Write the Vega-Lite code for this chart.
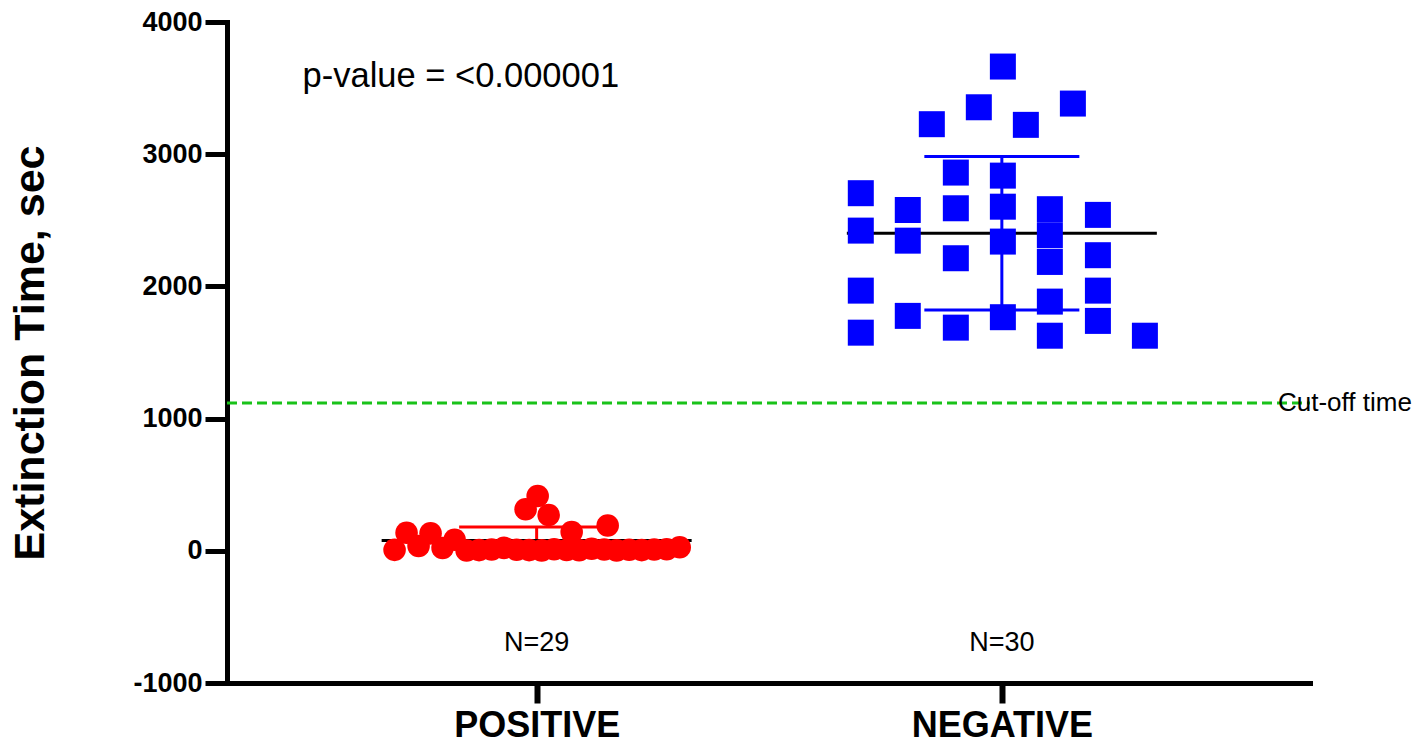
{
  "$schema": "https://vega.github.io/schema/vega-lite/v6.json",
  "width": 1083,
  "height": 661,
  "autosize": {"type": "none"},
  "padding": {"left": 227, "top": 22, "right": 118, "bottom": 61},
  "background": "white",
  "config": {"view": {"stroke": null}, "font": "Liberation Sans"},
  "datasets": {
    "pos": [
      {"x": 0.6946, "value": 7}, {"x": 0.7204, "value": 137}, {"x": 0.7462, "value": 36},
      {"x": 0.7720, "value": 132}, {"x": 0.7978, "value": 21}, {"x": 0.8237, "value": 83},
      {"x": 0.9763, "value": 314}, {"x": 1.0022, "value": 415}, {"x": 1.0258, "value": 271},
      {"x": 1.0753, "value": 142}, {"x": 1.1527, "value": 192},
      {"x": 0.8495, "value": 2}, {"x": 0.8763, "value": 5}, {"x": 0.9032, "value": 10},
      {"x": 0.9301, "value": 22}, {"x": 0.9570, "value": 8}, {"x": 0.9839, "value": 5},
      {"x": 1.0108, "value": 3}, {"x": 1.0376, "value": 12}, {"x": 1.0645, "value": 6},
      {"x": 1.0914, "value": 4}, {"x": 1.1183, "value": 15}, {"x": 1.1452, "value": 10},
      {"x": 1.1720, "value": 3}, {"x": 1.1989, "value": 8}, {"x": 1.2258, "value": 5},
      {"x": 1.2527, "value": 10}, {"x": 1.2796, "value": 12}, {"x": 1.3075, "value": 27}
    ],
    "neg": [
      {"x": 2.0022, "value": 3663}, {"x": 1.9505, "value": 3355}, {"x": 1.8495, "value": 3227},
      {"x": 2.0516, "value": 3222}, {"x": 2.1527, "value": 3383}, {"x": 1.9011, "value": 2861},
      {"x": 2.0022, "value": 2838}, {"x": 1.6968, "value": 2705}, {"x": 1.7978, "value": 2578},
      {"x": 1.9011, "value": 2591}, {"x": 2.0022, "value": 2603}, {"x": 2.1032, "value": 2584},
      {"x": 2.2065, "value": 2541}, {"x": 1.6968, "value": 2422}, {"x": 1.7978, "value": 2346},
      {"x": 2.0022, "value": 2339}, {"x": 2.1032, "value": 2387}, {"x": 1.9011, "value": 2213},
      {"x": 2.1032, "value": 2185}, {"x": 2.2065, "value": 2236}, {"x": 1.6968, "value": 1968},
      {"x": 2.2065, "value": 1968}, {"x": 2.1032, "value": 1885}, {"x": 1.7978, "value": 1777},
      {"x": 2.0022, "value": 1767}, {"x": 2.2065, "value": 1739}, {"x": 1.9011, "value": 1688},
      {"x": 1.6968, "value": 1650}, {"x": 2.1032, "value": 1627}, {"x": 2.3075, "value": 1627}
    ],
    "sd": [
      {"group": "POSITIVE", "x": 1, "value": -26, "value2": 180},
      {"group": "NEGATIVE", "x": 2, "value": 1822, "value2": 2982}
    ],
    "sdcap": [
      {"group": "POSITIVE", "x": 1, "value": -26},
      {"group": "POSITIVE", "x": 1, "value": 180},
      {"group": "NEGATIVE", "x": 2, "value": 1822},
      {"group": "NEGATIVE", "x": 2, "value": 2982}
    ],
    "mean": [
      {"group": "POSITIVE", "x": 1, "value": 77},
      {"group": "NEGATIVE", "x": 2, "value": 2402}
    ],
    "cutoff": [{"x": 0.3344, "x2": 2.6624, "value": 1118}],
    "cutlabel": [{"x": 2.5935, "value": 1118, "label": "Cut-off time"}],
    "ptext": [{"x": 0.4968, "value": 3587, "label": "p-value = <0.000001"}],
    "ntext": [
      {"x": 1, "value": -697, "label": "N=29"},
      {"x": 2, "value": -697, "label": "N=30"}
    ]
  },
  "encoding": {
    "x": {
      "field": "x", "type": "quantitative",
      "scale": {"domain": [0.3344, 2.6624], "nice": false, "zero": false},
      "axis": {
        "values": [1, 2],
        "labelExpr": "datum.value == 1 ? 'POSITIVE' : 'NEGATIVE'",
        "title": null, "grid": false,
        "labelFont": "Liberation Sans", "labelFontWeight": "bold", "labelFontSize": 36,
        "labelColor": "black", "labelPadding": 5, "labelLimit": 0, "labelOverlap": false,
        "tickSize": 20, "tickWidth": 6, "tickColor": "black",
        "domainWidth": 5, "domainColor": "black", "domainCap": "square"
      }
    },
    "y": {
      "field": "value", "type": "quantitative",
      "scale": {"domain": [-1000, 4000], "nice": false, "zero": false},
      "axis": {
        "values": [-1000, 0, 1000, 2000, 3000, 4000],
        "labelExpr": "'' + datum.value",
        "title": "Extinction Time, sec", "grid": false,
        "titleFont": "Liberation Sans", "titleFontWeight": "bold", "titleFontSize": 43,
        "titleColor": "black", "titlePadding": 80,
        "labelFont": "Liberation Sans", "labelFontWeight": "bold", "labelFontSize": 27,
        "labelColor": "black", "labelPadding": 3,
        "tickSize": 22, "tickWidth": 5, "tickColor": "black",
        "domainWidth": 5, "domainColor": "black", "domainCap": "square"
      }
    }
  },
  "layer": [
    {
      "data": {"name": "cutoff"},
      "mark": {"type": "rule", "color": "#19C219", "strokeWidth": 3, "strokeDash": [10, 5]},
      "encoding": {"x2": {"field": "x2"}}
    },
    {
      "data": {"name": "sd"},
      "mark": {"type": "rule", "strokeWidth": 3},
      "encoding": {
        "y2": {"field": "value2"},
        "color": {"field": "group", "type": "nominal", "scale": {"domain": ["POSITIVE", "NEGATIVE"], "range": ["#FF0000", "#0000FF"]}, "legend": null}
      }
    },
    {
      "data": {"name": "mean"},
      "mark": {"type": "tick", "orient": "horizontal", "size": 310, "thickness": 3, "color": "black", "opacity": 1}
    },
    {
      "data": {"name": "sdcap"},
      "mark": {"type": "tick", "orient": "horizontal", "size": 155, "thickness": 3, "opacity": 1},
      "encoding": {
        "color": {"field": "group", "type": "nominal", "scale": {"domain": ["POSITIVE", "NEGATIVE"], "range": ["#FF0000", "#0000FF"]}, "legend": null}
      }
    },
    {
      "data": {"name": "pos"},
      "mark": {"type": "point", "shape": "circle", "filled": true, "size": 510, "color": "#FF0000", "opacity": 1}
    },
    {
      "data": {"name": "neg"},
      "mark": {"type": "point", "shape": "square", "filled": true, "size": 676, "color": "#0000FF", "opacity": 1}
    },
    {
      "data": {"name": "cutlabel"},
      "mark": {"type": "text", "align": "left", "baseline": "middle", "fontSize": 26, "font": "Liberation Sans", "color": "black"},
      "encoding": {"text": {"field": "label"}}
    },
    {
      "data": {"name": "ptext"},
      "mark": {"type": "text", "align": "left", "baseline": "middle", "fontSize": 34.5, "font": "Liberation Sans", "color": "black"},
      "encoding": {"text": {"field": "label"}}
    },
    {
      "data": {"name": "ntext"},
      "mark": {"type": "text", "align": "center", "baseline": "middle", "fontSize": 27, "font": "Liberation Sans", "color": "black"},
      "encoding": {"text": {"field": "label"}}
    }
  ]
}
